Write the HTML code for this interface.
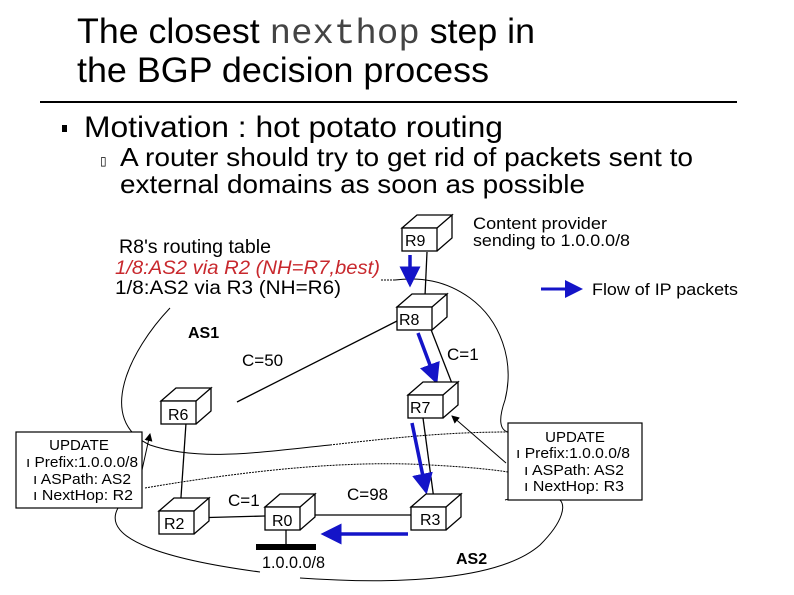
<!DOCTYPE html>
<html><head><meta charset="utf-8"><style>
html,body{margin:0;padding:0;background:#fff;}
svg{display:block;font-family:"Liberation Sans",Arial,sans-serif;}
</style></head><body>
<svg width="794" height="595" viewBox="0 0 794 595" xmlns="http://www.w3.org/2000/svg">
<defs>
<marker id="bh" markerWidth="6" markerHeight="6" refX="5" refY="3" orient="auto" markerUnits="strokeWidth"><path d="M0,0 L6,3 L0,6 z" fill="#1414c8"/></marker>
<marker id="kh" markerWidth="8" markerHeight="8" refX="7" refY="4" orient="auto" markerUnits="userSpaceOnUse"><path d="M0,0 L8,4 L0,8 z" fill="#000"/></marker>
<g id="box"><path d="M0,0 L15,-13 L50,-13 L35,0 z M35,0 L50,-13 L50,10 L35,23" fill="#fff" stroke="#000" stroke-width="1.3"/><rect x="0" y="0" width="35" height="23" fill="#fff" stroke="#000" stroke-width="1.3"/></g>
</defs>
<text x="77" y="43" font-size="35" textLength="458" lengthAdjust="spacingAndGlyphs">The closest <tspan font-family="Liberation Mono,monospace" fill="#444">nexthop</tspan> step in</text>
<text x="77" y="82" font-size="35" textLength="412" lengthAdjust="spacingAndGlyphs">the BGP decision process</text>
<line x1="40" y1="102" x2="737" y2="102" stroke="#000" stroke-width="2"/>
<rect x="62" y="125" width="5" height="7" fill="#000"/>
<text x="84" y="137" font-size="30" textLength="419" lengthAdjust="spacingAndGlyphs">Motivation : hot potato routing</text>
<text x="100" y="165" font-size="12">▯</text>
<text x="120" y="166" font-size="26" textLength="573" lengthAdjust="spacingAndGlyphs">A router should try to get rid of packets sent to</text>
<text x="120" y="193" font-size="26" textLength="465" lengthAdjust="spacingAndGlyphs">external domains as soon as possible</text>

<text x="119" y="253" font-size="19" textLength="152" lengthAdjust="spacingAndGlyphs">R8's routing table</text>
<text x="115" y="274" font-size="19" fill="#c8282d" font-style="italic" textLength="265" lengthAdjust="spacingAndGlyphs">1/8:AS2 via R2 (NH=R7,best)</text>
<text x="115" y="294" font-size="19" textLength="226" lengthAdjust="spacingAndGlyphs">1/8:AS2 via R3 (NH=R6)</text>
<text x="473" y="229" font-size="17" textLength="134" lengthAdjust="spacingAndGlyphs">Content provider</text>
<text x="473" y="246" font-size="17" textLength="157" lengthAdjust="spacingAndGlyphs">sending to 1.0.0.0/8</text>
<text x="592" y="295" font-size="17" textLength="146" lengthAdjust="spacingAndGlyphs">Flow of IP packets</text>
<line x1="541" y1="289" x2="580" y2="289" stroke="#1414c8" stroke-width="3" marker-end="url(#bh)"/>
<text x="188" y="338" font-size="16" font-weight="bold">AS1</text>
<text x="456" y="564" font-size="16" font-weight="bold">AS2</text>
<text x="242" y="366" font-size="17">C=50</text>
<text x="447" y="360" font-size="17">C=1</text>
<text x="228" y="506" font-size="17">C=1</text>
<text x="347" y="500" font-size="17">C=98</text>

<g fill="none" stroke="#000" stroke-width="1">
<path d="M170,308 C130,350 95,420 150,445 C200,462 260,452 330,445" />
<path d="M330,445 C400,437 450,432 508,432" stroke-dasharray="2,1"/>
<path d="M508,432 C500,430 498,420 505,400 C515,360 500,320 470,298 C445,280 420,277 395,280" />
<path d="M395,280 L380,280" stroke-dasharray="2,1"/>
<path d="M145,488 C250,470 350,460 430,465 C470,467 495,470 508,472" stroke-dasharray="2,1"/>
<path d="M118,508 C100,540 170,560 260,572"/>
<path d="M300,578 C400,585 500,580 540,545 C565,520 565,505 560,500" />
<path d="M560,500 C555,495 520,495 505,500"/>
</g>
<line x1="142" y1="470" x2="150" y2="434" stroke="#000" stroke-width="1" marker-end="url(#kh)"/>
<line x1="506" y1="463" x2="452" y2="416" stroke="#000" stroke-width="1" marker-end="url(#kh)"/>

<g stroke="#000" stroke-width="1.3">
<line x1="427" y1="252" x2="425" y2="296"/>
<line x1="397" y1="321" x2="237" y2="402"/>
<line x1="430" y1="327" x2="453" y2="386"/>
<line x1="186" y1="423" x2="180" y2="512"/>
<line x1="190" y1="518" x2="265" y2="516"/>
<line x1="303" y1="515" x2="411" y2="515"/>
<line x1="423" y1="418" x2="435" y2="507"/>
<line x1="286" y1="530" x2="286" y2="544"/>
</g>
<rect x="256" y="544" width="60" height="6" fill="#000"/>
<text x="262" y="568" font-size="17" textLength="63" lengthAdjust="spacingAndGlyphs">1.0.0.0/8</text>

<g stroke="#1414c8" stroke-width="3.5">
<line x1="410" y1="255" x2="410" y2="284" marker-end="url(#bh)"/>
<line x1="418" y1="333" x2="436" y2="381" marker-end="url(#bh)"/>
<line x1="412" y1="423" x2="426" y2="491" marker-end="url(#bh)"/>
<line x1="408" y1="534" x2="324" y2="534" marker-end="url(#bh)"/>
</g>

<use href="#box" x="402" y="228"/><text x="405" y="246" font-size="16">R9</text>
<use href="#box" x="397" y="307"/><text x="399" y="325" font-size="16">R8</text>
<use href="#box" x="408" y="395"/><text x="410" y="413" font-size="16">R7</text>
<use href="#box" x="161" y="401"/><text x="168" y="420" font-size="16">R6</text>
<use href="#box" x="159" y="511"/><text x="164" y="529" font-size="16">R2</text>
<use href="#box" x="265" y="507"/><text x="272" y="526" font-size="16">R0</text>
<use href="#box" x="411" y="507"/><text x="420" y="525" font-size="16">R3</text>

<rect x="16" y="432" width="126" height="76" fill="#fff" stroke="#000" stroke-width="1.2"/>
<text x="79" y="450" font-size="15" text-anchor="middle">UPDATE</text>
<text x="26" y="467" font-size="15" textLength="112" lengthAdjust="spacingAndGlyphs">ı Prefix:1.0.0.0/8</text>
<text x="33" y="484" font-size="15" textLength="98" lengthAdjust="spacingAndGlyphs">ı ASPath: AS2</text>
<text x="33" y="500" font-size="15" textLength="100" lengthAdjust="spacingAndGlyphs">ı NextHop: R2</text>

<rect x="508" y="423" width="134" height="77" fill="#fff" stroke="#000" stroke-width="1.2"/>
<text x="575" y="442" font-size="15" text-anchor="middle">UPDATE</text>
<text x="516" y="458" font-size="15" textLength="114" lengthAdjust="spacingAndGlyphs">ı Prefix:1.0.0.0/8</text>
<text x="524" y="475" font-size="15" textLength="100" lengthAdjust="spacingAndGlyphs">ı ASPath: AS2</text>
<text x="524" y="491" font-size="15" textLength="100" lengthAdjust="spacingAndGlyphs">ı NextHop: R3</text>
</svg>
</body></html>
